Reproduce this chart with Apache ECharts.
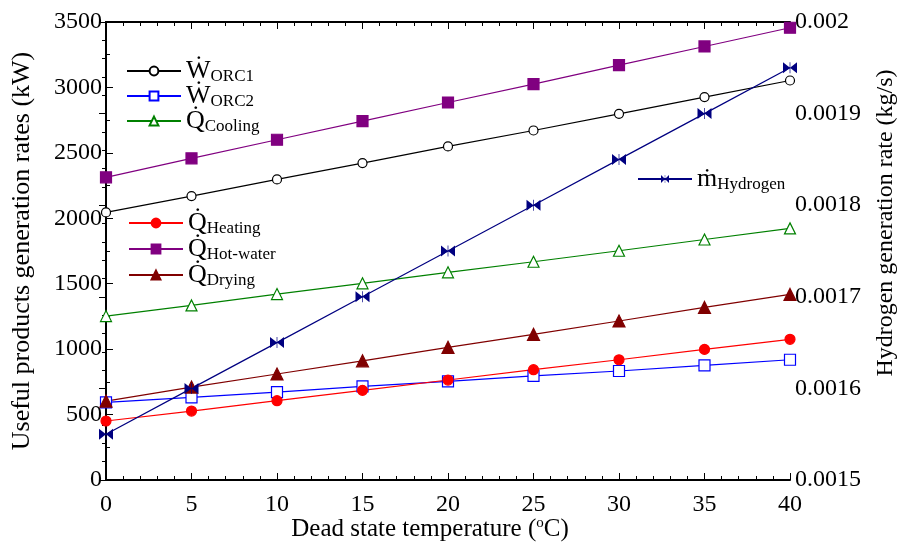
<!DOCTYPE html>
<html>
<head>
<meta charset="utf-8">
<script src="https://cdn.jsdelivr.net/npm/echarts@6/dist/echarts.min.js"></script>
<style>
  html, body { margin: 0; padding: 0; background: #fff; }
  #chart { width: 906px; height: 545px; }
</style>
</head>
<body>
<div id="chart"></div>
<script>
const temps = [0, 5, 10, 15, 20, 25, 30, 35, 40]

const wOrc1 = [2045, 2170, 2297, 2422, 2549, 2671, 2798, 2926, 3053]
const wOrc2 = [593, 632, 672, 716, 754, 795, 833, 876, 919]
const qCooling = [1253, 1334, 1421, 1503, 1587, 1668, 1752, 1838, 1923]
const qHeating = [451, 527, 606, 685, 764, 843, 919, 998, 1075]
const qHotWater = [2313, 2458, 2600, 2742, 2885, 3025, 3170, 3313, 3456]
const qDrying = [603, 710, 810, 911, 1014, 1113, 1215, 1319, 1418]
const mHydrogen = [0.00155, 0.0016, 0.00165, 0.0017, 0.00175, 0.0018, 0.00185, 0.0019, 0.00195]

const leftTicks = { min: 0, max: 3500, interval: 500 }
const rightTicks = { min: 0.0015, max: 0.002, interval: 0.0001 }
const xTicks = { min: 0, max: 40, interval: 5 }

const serif = 'Liberation Serif'
const bowtie = 'path://M0,0 L10,5 L0,10 Z M20,0 L10,5 L20,10 Z M9.5,0 L10.5,0 L10.5,10 L9.5,10 Z'

const chart = echarts.init(document.getElementById('chart'))

// 系列定义
const defs = [
  { name: 'W_ORC1', data: wOrc1, color: '#000000', symbol: 'circle', size: 9, fill: '#fff', label: ['Ẇ', 'ORC1'], top: 58, left: 126 },
  { name: 'W_ORC2', data: wOrc2, color: '#0000ff', symbol: 'rect', size: 11, fill: '#fff', label: ['Ẇ', 'ORC2'], top: 83, left: 126 },
  { name: 'Q_Cooling', data: qCooling, color: '#008000', symbol: 'triangle', size: 11, fill: '#fff', label: ['Q̇', 'Cooling'], top: 108, left: 126 },
  { name: 'Q_Heating', data: qHeating, color: '#ff0000', symbol: 'circle', size: 10, fill: null, label: ['Q̇', 'Heating'], top: 210, left: 128 },
  { name: 'Q_HotWater', data: qHotWater, color: '#800080', symbol: 'rect', size: 11, fill: null, label: ['Q̇', 'Hot-water'], top: 236, left: 128 },
  { name: 'Q_Drying', data: qDrying, color: '#800000', symbol: 'triangle', size: 12, fill: null, label: ['Q̇', 'Drying'], top: 262, left: 128 }
]

const series = defs.map(d => ({
  name: d.name,
  type: 'line',
  yAxisIndex: 0,
  data: temps.map((t, i) => [t, d.data[i]]),
  symbol: d.symbol,
  symbolSize: d.size,
  showAllSymbol: true,
  lineStyle: { color: d.color, width: 1.2 },
  itemStyle: { color: d.fill || d.color, borderColor: d.color, borderWidth: 1.2 },
  emphasis: { disabled: true }
}))

series.push({
  name: 'm_Hydrogen',
  type: 'line',
  yAxisIndex: 1,
  data: temps.map((t, i) => [t, mHydrogen[i]]),
  symbol: bowtie,
  symbolSize: [14, 11],
  lineStyle: { color: '#000080', width: 1.2 },
  itemStyle: { color: '#000080' },
  emphasis: { disabled: true },
  z: 3
})

const legendRich = {
  b: { fontFamily: serif, fontSize: 26, color: '#000' },
  s: { fontFamily: serif, fontSize: 17, color: '#000', padding: [12, 0, 0, 0] }
}

const legends = defs.map(d => ({
  data: [d.name],
  left: d.left,
  top: d.top,
  padding: 0,
  itemWidth: 54,
  itemHeight: 11,
  itemGap: 0,
  formatter: () => `{b|${d.label[0]}}{s|${d.label[1]}}`,
  textStyle: { rich: legendRich },
  selectedMode: false
}))
legends.push({
  data: ['m_Hydrogen'],
  left: 637,
  top: 166,
  padding: 0,
  itemWidth: 54,
  itemHeight: 10,
  formatter: () => '{b|ṁ}{s|Hydrogen}',
  textStyle: { rich: legendRich },
  selectedMode: false
})

const tickStyle = { color: '#000', width: 1 }

const option = {
  animation: false,
  grid: { left: 106, right: 116, top: 22, bottom: 65, show: false, outerBoundsMode: 'none', containLabel: false },
  legend: legends,
  xAxis: [
    {
      type: 'value',
      ...xTicks,
      position: 'bottom',
      name: '{t|Dead state temperature (}{sup|o}{t|C)}{gap| }',
      nameLocation: 'middle',
      nameMoveOverlap: false,
      nameGap: 36,
      nameTextStyle: {
        fontFamily: serif, fontSize: 25, color: '#000',
        rich: {
          t: { fontFamily: serif, fontSize: 25, color: '#000' },
          sup: { fontFamily: serif, fontSize: 15, color: '#000', padding: [0, 0, 12, 0] },
          gap: { fontSize: 10, width: 36 }
        }
      },
      axisLine: { lineStyle: { color: '#000', width: 2 } },
      axisTick: { inside: true, length: 7, lineStyle: tickStyle },
      minorTick: { show: true, splitNumber: 5, length: 4, lineStyle: tickStyle },
      axisLabel: { fontFamily: serif, fontSize: 24, color: '#000', margin: 13 },
      splitLine: { show: false }
    },
    {
      type: 'value',
      ...xTicks,
      position: 'top',
      axisLine: { lineStyle: { color: '#000', width: 2 } },
      axisTick: { inside: true, length: 7, lineStyle: tickStyle },
      minorTick: { show: true, splitNumber: 5, length: 4, lineStyle: tickStyle },
      axisLabel: { show: false },
      splitLine: { show: false }
    }
  ],
  yAxis: [
    {
      type: 'value',
      ...leftTicks,
      position: 'left',
      name: 'Useful products generation rates (kW)',
      nameLocation: 'middle',
      nameGap: 71,
      nameTextStyle: { fontFamily: serif, fontSize: 26, color: '#000' },
      axisLine: { show: true, lineStyle: { color: '#000', width: 2 } },
      axisTick: { inside: true, length: 7, lineStyle: tickStyle },
      minorTick: { show: true, splitNumber: 2, length: 4, lineStyle: tickStyle },
      axisLabel: { fontFamily: serif, fontSize: 24, color: '#000', margin: 4, formatter: v => String(v) },
      splitLine: { show: false }
    },
    {
      type: 'value',
      ...rightTicks,
      position: 'right',
      name: 'Hydrogen generation rate (kg/s)',
      nameLocation: 'middle',
      nameGap: 84,
      nameRotate: 90,
      nameTextStyle: { fontFamily: serif, fontSize: 24, color: '#000', padding: [0, 0, 0, 56] },
      axisLine: { show: true, lineStyle: { color: '#000', width: 2 } },
      axisTick: { inside: true, length: 7, lineStyle: tickStyle },
      minorTick: { show: true, splitNumber: 5, length: 4, lineStyle: tickStyle },
      axisLabel: {
        fontFamily: serif, fontSize: 24, color: '#000', margin: 5,
        formatter: v => String(+v.toFixed(4))
      },
      splitLine: { show: false }
    }
  ],
  series
}

chart.setOption(option)
</script>
</body>
</html>
